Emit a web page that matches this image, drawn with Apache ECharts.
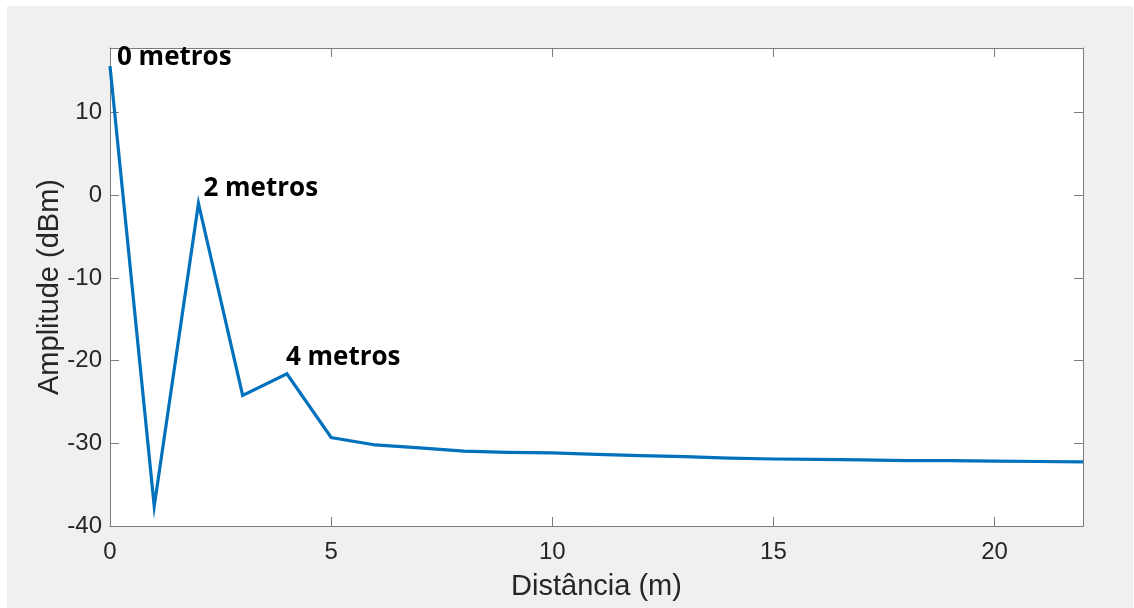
<!DOCTYPE html>
<html>
<head>
<meta charset="utf-8">
<script src="https://cdn.jsdelivr.net/npm/echarts@6/dist/echarts.min.js"></script>
<style>
  html, body { margin: 0; padding: 0; background: #ffffff; }
  #chart { position: absolute; left: 7px; top: 6px; width: 1126px; height: 602px; background: #f0f0f0; }
</style>
</head>
<body>
<div id="chart"></div>
<script>
// Distance samples (m) and measured amplitude (dBm)
const distances = [0, 1, 2, 3, 4, 5, 6, 7, 8, 9, 10, 11, 12, 13, 14, 15, 16, 17, 18, 19, 20, 21, 22];
const amplitudes = [15.6, -37.6, -1.0, -24.2, -21.6, -29.3, -30.2, -30.55, -30.95, -31.1, -31.15, -31.35,
                    -31.5, -31.6, -31.8, -31.9, -31.95, -32.0, -32.1, -32.1, -32.15, -32.2, -32.25];

// Annotated reflection peaks
const peakDistances = [0, 2, 4];
const peakLabels = ['0 metros', '2 metros', '4 metros'];

// Axis settings
const xTicks = [0, 5, 10, 15, 20];
const yTicks = [-40, -30, -20, -10, 0, 10];
const xRange = [0, 22];
const yRange = [-40, 17.8];

// Pixel nudges for the peak annotations
const labelOffsets = [[7, 4], [5, -2], [-1, -3]];

const chart = echarts.init(document.getElementById('chart'), null, { renderer: 'canvas' });

const tickFont = { fontFamily: 'Liberation Sans, Arial, sans-serif', fontSize: 24, color: '#262626' };
const titleFont = { fontFamily: 'Liberation Sans, Arial, sans-serif', fontSize: 29, color: '#262626' };
const boxColor = '#7c7c7c';

const peakLabelStyle = {
  show: true,
  position: 'inside',
  align: 'left',
  verticalAlign: 'bottom',
  fontFamily: 'Open Sans, sans-serif',
  fontWeight: 'bold',
  fontSize: 26,
  color: '#000000',
  opacity: 1,
  textBorderWidth: 0
};

const peakData = peakDistances.map((d, k) => {
  const idx = distances.indexOf(d);
  return {
    value: [d, amplitudes[idx]],
    label: { ...peakLabelStyle, formatter: peakLabels[k], offset: labelOffsets[k] }
  };
});

const onTick = (ticks) => (v) => (ticks.indexOf(v) >= 0 ? String(v) : '');

chart.setOption({
  backgroundColor: '#f0f0f0',
  animation: false,
  grid: { left: 103, right: 50, top: 42, bottom: 82, show: true, backgroundColor: '#ffffff', borderWidth: 0 },
  xAxis: [
    {
      type: 'value', min: xRange[0], max: xRange[1], interval: 5, position: 'bottom',
      name: 'Distância (m)', nameLocation: 'middle', nameGap: 46, nameMoveOverlap: false,
      nameTextStyle: titleFont,
      axisLine: { show: true, onZero: false, lineStyle: { color: boxColor, width: 1 } },
      axisTick: { show: true, inside: true, length: 9, lineStyle: { color: boxColor } },
      axisLabel: { ...tickFont, margin: 14, showMaxLabel: false, formatter: onTick(xTicks) },
      splitLine: { show: false }
    },
    {
      type: 'value', min: xRange[0], max: xRange[1], interval: 5, position: 'top',
      axisLine: { show: true, onZero: false, lineStyle: { color: boxColor, width: 1 } },
      axisTick: { show: true, inside: true, length: 9, lineStyle: { color: boxColor } },
      axisLabel: { show: false },
      splitLine: { show: false }
    }
  ],
  yAxis: [
    {
      type: 'value', min: yRange[0], max: yRange[1], interval: 10, position: 'left',
      name: 'Amplitude (dBm)', nameLocation: 'middle', nameGap: 46, nameMoveOverlap: false,
      nameTextStyle: titleFont,
      axisLine: { show: true, onZero: false, lineStyle: { color: boxColor, width: 1 } },
      axisTick: { show: true, inside: true, length: 9, lineStyle: { color: boxColor } },
      axisLabel: { ...tickFont, margin: 8, showMaxLabel: false, formatter: onTick(yTicks) },
      splitLine: { show: false }
    },
    {
      type: 'value', min: yRange[0], max: yRange[1], interval: 10, position: 'right',
      axisLine: { show: true, onZero: false, lineStyle: { color: boxColor, width: 1 } },
      axisTick: { show: true, inside: true, length: 9, lineStyle: { color: boxColor } },
      axisLabel: { show: false },
      splitLine: { show: false }
    }
  ],
  series: [
    {
      type: 'line',
      data: distances.map((d, i) => [d, amplitudes[i]]),
      showSymbol: false,
      symbol: 'none',
      clip: true,
      lineStyle: { color: '#0072bd', width: 3.2, join: 'miter' },
      z: 3
    },
    {
      type: 'scatter',
      data: peakData,
      symbolSize: 1,
      itemStyle: { color: 'rgba(0,0,0,0)', opacity: 1 },
      label: peakLabelStyle,
      silent: true,
      clip: false,
      z: 4
    }
  ]
});
</script>
</body>
</html>
